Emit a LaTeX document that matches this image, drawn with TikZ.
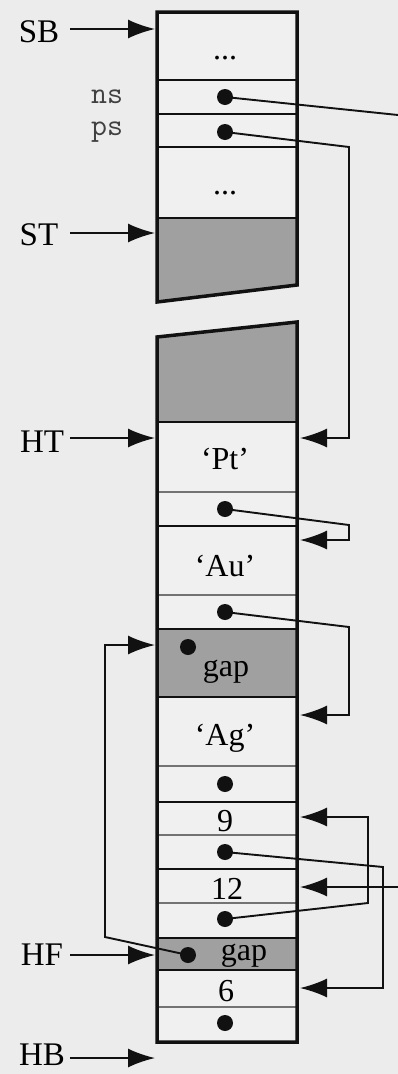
\documentclass[tikz,border=0pt]{standalone}
\usepackage{fontspec}
\setmainfont{Liberation Serif}
\usetikzlibrary{arrows.meta}
\definecolor{paper}{HTML}{ECECEC}
\definecolor{cellbg}{HTML}{F0F0F0}
\definecolor{gapfill}{HTML}{A0A0A0}
\definecolor{ink}{HTML}{111111}
\tikzset{
  border/.style={draw=ink, line width=3.5pt, line join=miter},
  thickdiv/.style={draw=ink, line width=2.2pt},
  thindiv/.style={draw=black!55, line width=1.1pt},
  ptr/.style={circle, fill=ink, inner sep=0pt, minimum size=16pt},
  celltext/.style={font=\fontsize{32}{32}\selectfont, inner sep=0pt},
  sidelabel/.style={font=\fontsize{33}{33}\selectfont, inner sep=0pt},
  fieldname/.style={font=\ttfamily\fontsize{31}{31}\selectfont, text=black!75, inner sep=0pt},
  link/.style={draw=ink, line width=1.9pt, line join=miter,
    -{Latex[length=27pt,width=19pt]}},
  wire/.style={draw=ink, line width=1.9pt, line join=miter},
}
\begin{document}
\begin{tikzpicture}[x=1pt,y=-1pt]
\useasboundingbox (0,0) rectangle (398,1074);
\fill[paper] (0,0) rectangle (398,1074);

% ---- stack segment ----
\fill[cellbg] (157,12) rectangle (297,218);
\fill[gapfill] (157,218) -- (297,218) -- (297,285) -- (157,302) -- cycle;
\foreach \y in {80,114,147} \draw[draw=ink, line width=1.4pt] (157,\y) -- (297,\y);
\draw[thickdiv] (157,218) -- (297,218);
\draw[border] (157,302) -- (157,12) -- (297,12) -- (297,285) -- cycle;

% ---- heap segment ----
\fill[cellbg] (157,422) rectangle (297,1042);
\fill[gapfill] (157,337) -- (297,322) -- (297,422) -- (157,422) -- cycle;
\fill[gapfill] (157,629) rectangle (297,697);
\fill[gapfill] (157,938) rectangle (297,970);
\foreach \y in {492,595,766,835,903,1007} \draw[thindiv] (157,\y) -- (297,\y);
\foreach \y in {422,526,629,697,802,869,938,970} \draw[thickdiv] (157,\y) -- (297,\y);
\draw[border] (157,337) -- (297,322) -- (297,1042) -- (157,1042) -- cycle;

% ---- cell contents ----
\node[celltext] (dotsA) at (225,58) {...};
\node[celltext] (dotsB) at (225,193) {...};
\node[fieldname] (nsname) at (107,97) {ns};
\node[fieldname] (psname) at (107,132) {ps};
\node[ptr] (ns) at (225,97) {};
\node[ptr] (ps) at (225,132) {};

\node[celltext] (pt) at (225,459) {`Pt'};
\node[ptr] (ptnext) at (225,509) {};
\node[celltext] (au) at (225,566) {`Au'};
\node[ptr] (aunext) at (225,612) {};
\node[ptr] (gapAptr) at (188,647) {};
\node[celltext] (gapA) at (226,672) {gap};
\node[celltext] (ag) at (225,738) {`Ag'};
\node[ptr] (agnext) at (225,784) {};
\node[celltext] (nine) at (225,821) {9};
\node[ptr] (ninenext) at (225,852) {};
\node[celltext] (twelve) at (227,889) {12};
\node[ptr] (twelvenext) at (225,919) {};
\node[ptr] (gapBptr) at (188,955) {};
\node[celltext] (gapB) at (244,956) {gap};
\node[celltext] (six) at (226,991) {6};
\node[ptr] (sixnext) at (225,1023) {};

% ---- edge coordinates ----
\coordinate (sbIn) at (155,29);
\coordinate (stIn) at (155,233);
\coordinate (htIn) at (155,438);
\coordinate (hfIn) at (155,955);
\coordinate (hbIn) at (155,1058);
\coordinate (ptIn) at (300,438);
\coordinate (auIn) at (300,540);
\coordinate (agIn) at (300,715);
\coordinate (nineIn) at (300,817);
\coordinate (twelveIn) at (300,887);
\coordinate (sixIn) at (300,988);
\coordinate (gapAIn) at (155,645);
\coordinate (nsOut) at (398,115);
\coordinate (nsBack) at (398,887);

% ---- side labels ----
\node[sidelabel] (SB) at (39,32) {SB};
\node[sidelabel] (ST) at (39,235) {ST};
\node[sidelabel] (HT) at (42,442) {HT};
\node[sidelabel] (HF) at (42,955) {HF};
\node[sidelabel] (HB) at (42,1055) {HB};
\draw[link] (70,29) -- (sbIn);
\draw[link] (70,233) -- (stIn);
\draw[link] (70,438) -- (htIn);
\draw[link] (70,955) -- (hfIn);
\draw[link] (70,1058) -- (hbIn);

% ---- pointers ----
\draw[wire] (ns.center) -- (nsOut);
\draw[link] (nsBack) -- (twelveIn);
\draw[link] (ps.center) -- (349,147) -- (349,438) -- (ptIn);
\draw[link] (ptnext.center) -- (349,525) -- (349,540) -- (auIn);
\draw[link] (aunext.center) -- (349,627) -- (349,715) -- (agIn);
\draw[link] (twelvenext.center) -- (368,903) -- (368,817) -- (nineIn);
\draw[link] (ninenext.center) -- (383,867) -- (383,988) -- (sixIn);
\draw[link] (gapBptr.center) -- (105,937) -- (105,645) -- (gapAIn);
\end{tikzpicture}
\end{document}
